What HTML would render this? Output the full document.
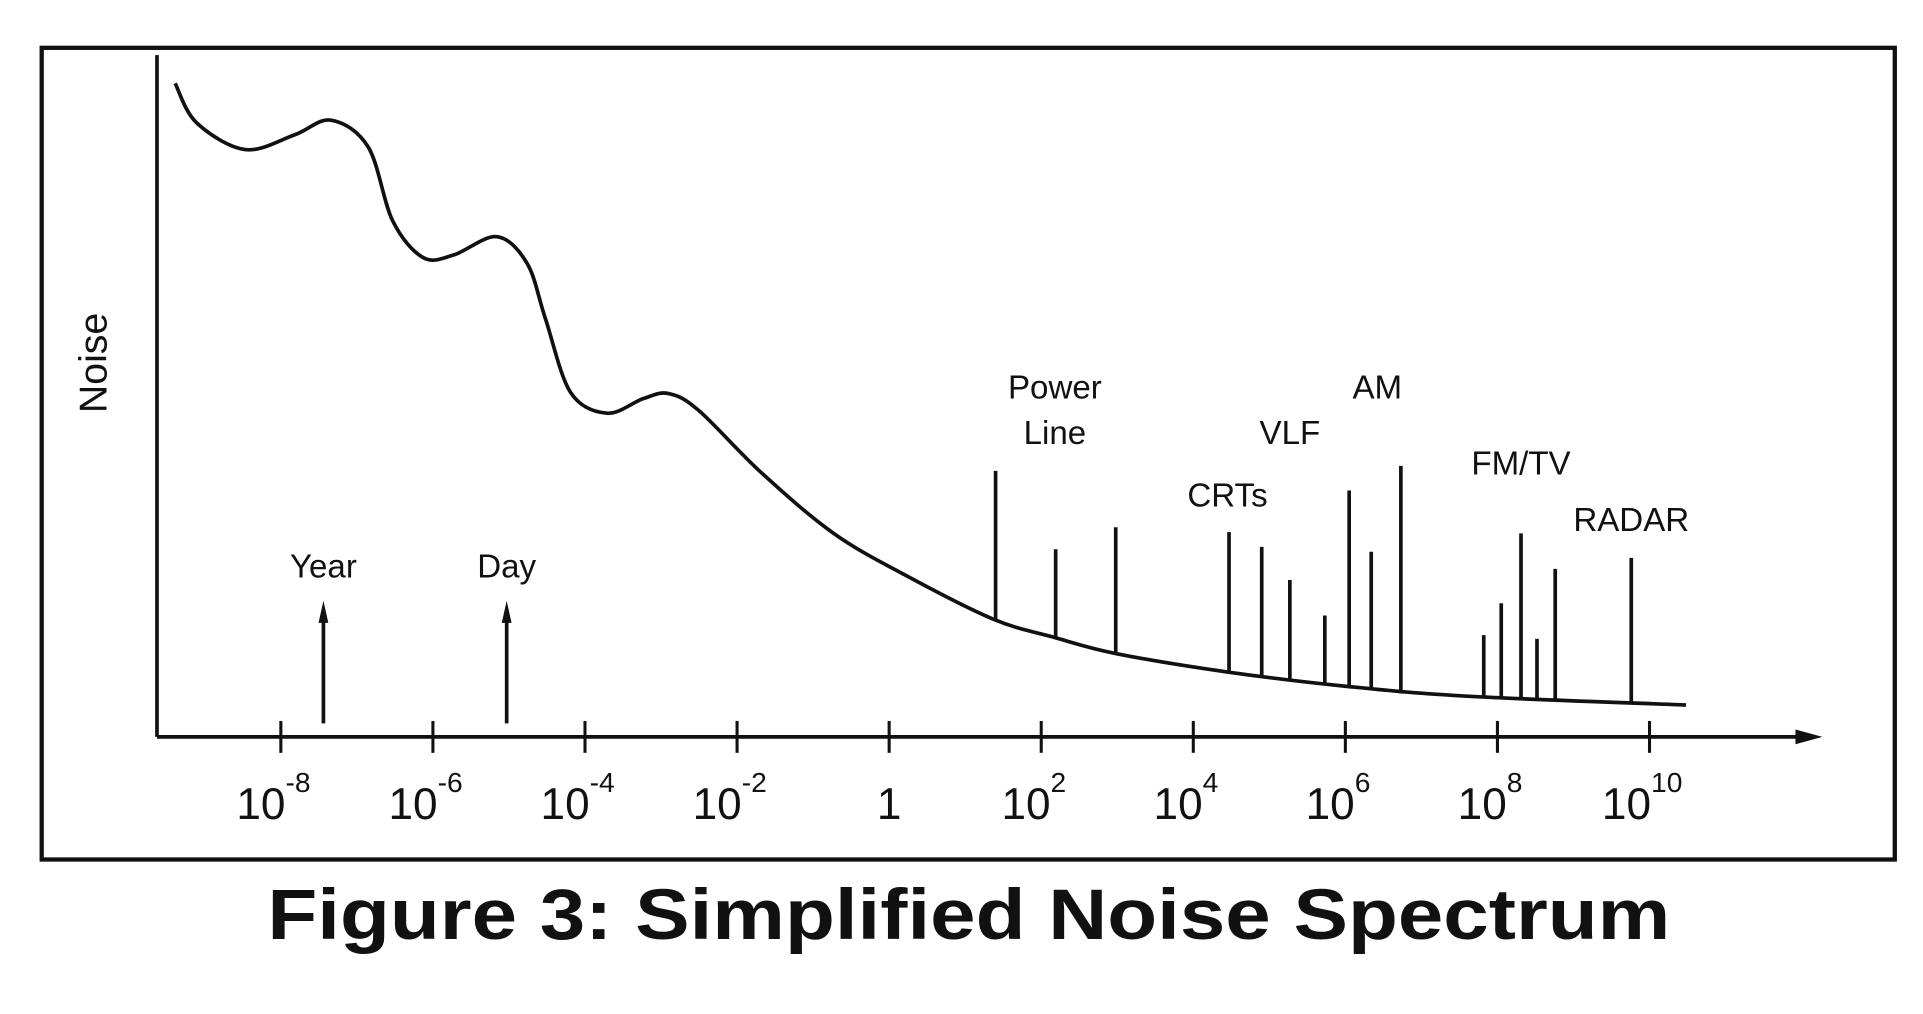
<!DOCTYPE html>
<html><head><meta charset="utf-8"><style>
html,body{margin:0;padding:0;background:#fff;}
svg{display:block;}
text{font-family:"Liberation Sans",Arial,sans-serif;fill:#111;}
</style></head><body>
<svg id="chart" width="1923" height="1014" viewBox="0 0 1568 827" preserveAspectRatio="none" xmlns="http://www.w3.org/2000/svg">
<rect x="34" y="39" width="1511" height="662" fill="none" stroke="#111" stroke-width="3.5"/>
<line x1="128" y1="45" x2="128" y2="601" stroke="#111" stroke-width="3"/>
<line x1="128" y1="601" x2="1478" y2="601" stroke="#111" stroke-width="3"/>
<polygon points="1486,604 1464,598 1464,610" fill="#111" transform="translate(0,-3)"/>
<text x="0" y="0" font-size="32" text-anchor="middle" transform="translate(87,296) rotate(-90)">Noise</text>
<g id="ticks"></g>
<g id="marks"></g>
<g id="labels"></g>
<text x="218" y="766" font-size="58" font-weight="bold" textLength="1144" lengthAdjust="spacingAndGlyphs">Figure 3: Simplified Noise Spectrum</text>
</svg>
<script>
// ---- data ----
const tickExponents = [-8, -6, -4, -2, 0, 2, 4, 6, 8, 10];
const curveLogF = [-9.39,-9.11,-8.47,-7.82,-7.34,-6.85,-6.53,-6.13,-5.73,-5.16,-4.76,-4.52,-4.19,-3.71,-3.23,-2.9,-2.5,-1.69,-0.73,0.24,1.37,2.18,2.98,4.44,6.05,7.66,10.48];
const curveNoise = [106.6,100.2,95.8,98.2,100.6,96.2,84.2,78.2,78.6,81.6,77.2,68.2,56.2,52.8,55.2,56,53.2,43.2,33.2,26.2,19.2,16.2,13.6,10.6,8.2,6.6,5.2];
const spikeLogF = [1.40,2.19,2.98,4.47,4.90,5.27,5.73,6.05,6.34,6.73,7.82,8.05,8.31,8.52,8.76,9.76];
const spikeNoise = [43.4,30.6,34.2,33.4,31,25.6,19.8,40.2,30.2,44.2,16.6,21.8,33.2,16,27.4,29.2];
const eventNames = ["Year","Day"];
const eventLogF = [-7.44,-5.03];
const sourceLabels = ["Power","Line","CRTs","VLF","AM","FM/TV","RADAR"];
const sourceLabelLogF = [2.18,2.18,4.45,5.27,6.42,8.31,9.76];
const sourceLabelNoise = [55.2,47.8,37.6,47.8,55.2,42.8,33.6];

// ---- scales ----
const NS="http://www.w3.org/2000/svg";
const xS = lf => 725 + 62*lf;
const yS = v => 601 - 5*v;
function curveAt(lf){
  for(let i=0;i<curveLogF.length-1;i++){
    if(lf>=curveLogF[i]&&lf<=curveLogF[i+1]){
      const t=(lf-curveLogF[i])/(curveLogF[i+1]-curveLogF[i]);
      return curveNoise[i]+t*(curveNoise[i+1]-curveNoise[i]);
    }
  }
  return curveNoise[curveNoise.length-1];
}
function mk(tag, attrs, parent){
  const e=document.createElementNS(NS,tag);
  for(const k in attrs) e.setAttribute(k, attrs[k]);
  parent.appendChild(e); return e;
}
const ticksG=document.getElementById('ticks');
const marksG=document.getElementById('marks');
const labelsG=document.getElementById('labels');

tickExponents.forEach(ex=>{
  const x=xS(ex);
  const t=mk('line',{x1:x,y1:588,x2:x,y2:614,stroke:'#111','stroke-width':2.5},ticksG);
  
  
  const tx=mk('text',{x:x, y:668,'font-size':36,'text-anchor':'middle'},ticksG);
  
  
  if(ex===0){ tx.textContent='1'; }
  else {
    tx.setAttribute('x', x-6);
    tx.textContent='10';
    const sp=document.createElementNS(NS,'tspan');
    sp.setAttribute('dy','-22'); sp.setAttribute('font-size','23');
    sp.textContent=String(ex);
    tx.appendChild(sp);
  }
});

const pts=curveLogF.map((lf,i)=>[xS(lf),yS(curveNoise[i])]);
let d='M'+pts[0][0]+','+pts[0][1];
for(let i=0;i<pts.length-1;i++){
  const p0=pts[Math.max(0,i-1)],p1=pts[i],p2=pts[i+1],p3=pts[Math.min(pts.length-1,i+2)];
  const c1=[p1[0]+(p2[0]-p0[0])/6,p1[1]+(p2[1]-p0[1])/6];
  const c2=[p2[0]-(p3[0]-p1[0])/6,p2[1]-(p3[1]-p1[1])/6];
  d+=' C'+c1[0]+','+c1[1]+' '+c2[0]+','+c2[1]+' '+p2[0]+','+p2[1];
}
const curve=mk('path',{d:d,fill:'none',stroke:'#111','stroke-width':3},marksG);



spikeLogF.forEach((lf,i)=>{
  const x=xS(lf);
  const s=mk('line',{x1:x,y1:yS(spikeNoise[i]),x2:x,y2:yS(curveAt(lf)),stroke:'#111','stroke-width':3},marksG);
  
  
});

eventLogF.forEach((lf,i)=>{
  const x=xS(lf);
  const a=mk('line',{x1:x,y1:590,x2:x,y2:502,stroke:'#111','stroke-width':3},marksG);
  
  
  const h=mk('polygon',{points:(x)+','+490+' '+(x-4)+','+508+' '+(x+4)+','+508,fill:'#111'},marksG);
  
  
  const t=mk('text',{x:x,y:471,'font-size':27,'text-anchor':'middle'},labelsG);
  
  
  t.textContent=eventNames[i];
});

sourceLabels.forEach((s,i)=>{
  const t=mk('text',{x:xS(sourceLabelLogF[i]),y:yS(sourceLabelNoise[i]),'font-size':27,'text-anchor':'middle'},labelsG);
  
  
  t.textContent=s;
});
</script>
</body></html>
